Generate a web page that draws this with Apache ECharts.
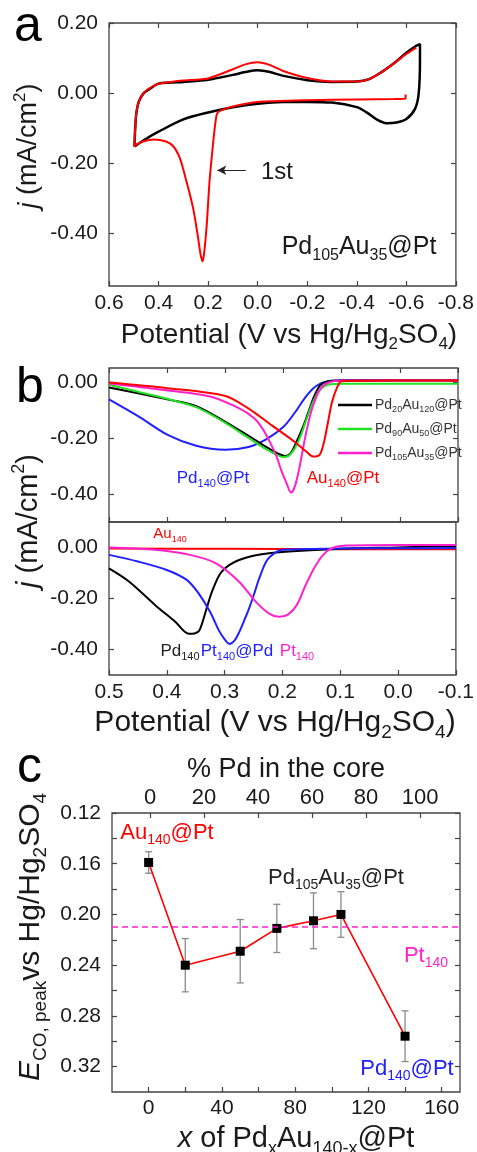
<!DOCTYPE html>
<html><head><meta charset="utf-8">
<script src="https://cdn.jsdelivr.net/npm/echarts@6/dist/echarts.min.js"></script>
<style>html,body{margin:0;padding:0;background:#fff}#c{width:477px;height:1152px}</style>
</head><body><div id="c"></div>
<script>
// ---------- Panel a: CV of Pd105Au35@Pt ----------
const cvBlackE = [0.497,0.495,0.49,0.48,0.46,0.44,0.4,0.35,0.3,0.2,0.1,0.05,0.0,-0.05,-0.1,-0.2,-0.3,-0.4,-0.45,-0.5,-0.55,-0.6,-0.64,-0.655,-0.655,-0.65,-0.635,-0.6,-0.56,-0.52,-0.48,-0.44,-0.4,-0.3,-0.2,-0.1,0.0,0.1,0.2,0.3,0.4,0.45,0.497];
const cvBlackJ = [-0.152,-0.11,-0.06,-0.025,0.0,0.01,0.027,0.03,0.032,0.038,0.052,0.06,0.065,0.06,0.05,0.037,0.032,0.033,0.04,0.06,0.085,0.115,0.135,0.14,0.1,0.0,-0.045,-0.074,-0.084,-0.086,-0.075,-0.055,-0.04,-0.027,-0.025,-0.025,-0.03,-0.04,-0.055,-0.075,-0.11,-0.13,-0.152];
const cvRedE = [-0.597,-0.597,-0.55,-0.4,-0.2,0.0,0.1,0.15,0.165,0.175,0.185,0.195,0.205,0.215,0.222,0.23,0.24,0.25,0.26,0.275,0.29,0.305,0.32,0.34,0.37,0.42,0.46,0.49,0.497,0.495,0.49,0.48,0.46,0.44,0.4,0.35,0.3,0.2,0.1,0.05,0.0,-0.05,-0.1,-0.2,-0.3,-0.4,-0.45,-0.5,-0.55,-0.6,-0.64];
const cvRedJ = [-0.004,-0.016,-0.017,-0.018,-0.02,-0.025,-0.038,-0.05,-0.06,-0.11,-0.18,-0.257,-0.37,-0.45,-0.48,-0.462,-0.415,-0.37,-0.33,-0.285,-0.245,-0.205,-0.175,-0.152,-0.138,-0.132,-0.137,-0.147,-0.152,-0.11,-0.06,-0.025,0.0,0.012,0.027,0.032,0.036,0.042,0.068,0.082,0.088,0.08,0.064,0.043,0.033,0.033,0.04,0.06,0.085,0.112,0.13];
const arrow1stE = [0.048, 0.163];
const arrow1stJ = -0.22;

// ---------- Panel b top: core@Pt particles ----------
const bNamesTop = ['Pd_{20}Au_{120}@Pt','Pd_{90}Au_{50}@Pt','Pd_{105}Au_{35}@Pt'];
const bPd140PtE = [0.5,0.45,0.4,0.35,0.3,0.26,0.23,0.2,0.18,0.165,0.15,0.135,0.12,0.1,0.0,-0.1];
const bPd140PtJ = [-0.062,-0.122,-0.188,-0.228,-0.242,-0.232,-0.205,-0.16,-0.108,-0.062,-0.025,-0.004,0.004,0.006,0.006,0.006];
const bPd20E = [0.5,0.45,0.4,0.35,0.3,0.26,0.23,0.21,0.198,0.188,0.178,0.166,0.156,0.147,0.137,0.125,0.1,0.0,-0.1];
const bPd20J = [-0.02,-0.04,-0.062,-0.086,-0.142,-0.192,-0.232,-0.255,-0.264,-0.255,-0.215,-0.158,-0.1,-0.05,-0.012,0.002,0.005,0.005,0.005];
const bPd90E = [0.5,0.45,0.4,0.35,0.3,0.26,0.23,0.21,0.2,0.19,0.18,0.17,0.16,0.15,0.14,0.13,0.12,0.1,0.0,-0.1];
const bPd90J = [-0.01,-0.035,-0.06,-0.09,-0.146,-0.2,-0.24,-0.262,-0.268,-0.262,-0.235,-0.19,-0.13,-0.075,-0.035,-0.016,-0.008,-0.006,-0.006,-0.006];
const bPd105E = [0.5,0.42,0.33,0.28,0.25,0.235,0.222,0.212,0.203,0.195,0.187,0.18,0.172,0.163,0.153,0.143,0.133,0.12,0.1,0.0,-0.1];
const bPd105J = [-0.005,-0.025,-0.05,-0.09,-0.13,-0.17,-0.22,-0.266,-0.32,-0.36,-0.395,-0.37,-0.3,-0.2,-0.11,-0.05,-0.015,0.0,0.005,0.005,0.005];
const bAu140PtE = [0.5,0.4,0.3,0.26,0.22,0.18,0.16,0.149,0.138,0.131,0.125,0.117,0.108,0.1,0.0,-0.1];
const bAu140PtJ = [-0.002,-0.022,-0.05,-0.095,-0.155,-0.215,-0.25,-0.266,-0.26,-0.22,-0.16,-0.075,-0.02,0.003,0.005,0.005];

// ---------- Panel b bottom: reference particles ----------
const bAu140E = [0.5,0.3,0.1,-0.1];
const bAu140J = [-0.004,-0.005,-0.007,-0.007];
const bPt140E = [0.5,0.42,0.36,0.315,0.275,0.246,0.223,0.206,0.19,0.175,0.16,0.145,0.13,0.115,0.09,0.0,-0.1];
const bPt140J = [0.0,-0.009,-0.029,-0.062,-0.134,-0.213,-0.259,-0.272,-0.262,-0.225,-0.148,-0.08,-0.03,-0.003,0.008,0.01,0.01];
const bPt140PdE = [0.5,0.45,0.4,0.365,0.345,0.325,0.31,0.3,0.292,0.283,0.275,0.265,0.258,0.248,0.24,0.225,0.2,0.1,0.0,-0.1];
const bPt140PdJ = [-0.029,-0.055,-0.088,-0.128,-0.18,-0.253,-0.325,-0.36,-0.378,-0.365,-0.333,-0.28,-0.241,-0.175,-0.12,-0.045,-0.009,-0.004,-0.003,-0.002];
const bPd140E = [0.5,0.465,0.42,0.385,0.362,0.352,0.343,0.333,0.322,0.305,0.275,0.22,0.1,0.0,-0.1];
const bPd140J = [-0.082,-0.134,-0.226,-0.292,-0.338,-0.337,-0.322,-0.253,-0.174,-0.095,-0.049,-0.022,-0.005,0.0,0.006];

// ---------- Panel c: CO peak potential vs composition ----------
const coreX = [0,20,50,70,90,105,140];
const coreEpeak = [0.159,0.240,0.229,0.211,0.205,0.200,0.296];
const coreErr = [0.0085,0.021,0.025,0.019,0.022,0.018,0.02];
const pt140Ref = 0.214;

// ---------- Tick values ----------
const aXTicks = [0.6,0.4,0.2,0.0,-0.2,-0.4,-0.6,-0.8];
const aYTicks = [0.2,0.0,-0.2,-0.4];
const bXTicks = [0.5,0.4,0.3,0.2,0.1,0.0,-0.1];
const bYTicks = [0.0,-0.2,-0.4];
const cXLabels = [0,40,80,120,160];
const cXTicks = [0,20,40,60,80,100,120,140,160];
const cTopTicks = [0,20,40,60,80,100];
const cYLabels = [0.12,0.16,0.20,0.24,0.28,0.32];
const cYTicks = [0.12,0.14,0.16,0.18,0.20,0.22,0.24,0.26,0.28,0.30,0.32];

// ================= rendering =================
const FF = "'Liberation Sans', Arial, Helvetica, sans-serif";
const RED='#ff0000', BLK='#000000', GRN='#22e022', MAG='#ff22cc', BLU='#2020ff', TXT='#1a1a1a', AX='#444';

function zip(a,b){ return a.map((v,i)=>[v,b[i]]); }
function mk(str){
  let out='', buf='', i=0;
  const flush=()=>{ if(buf){ out+='{n|'+buf+'}'; buf=''; } };
  while(i<str.length){
    const ch=str[i];
    if((ch==='_'||ch==='^') && str[i+1]==='{'){
      flush(); const j=str.indexOf('}',i);
      out+='{'+(ch==='_'?'s':'p')+'|'+str.slice(i+2,j)+'}'; i=j+1;
    } else if(ch==='$'){
      flush(); const j=str.indexOf('$',i+1);
      out+='{i|'+str.slice(i+1,j)+'}'; i=j+1;
    } else { buf+=ch; i++; }
  }
  flush(); return out;
}
function richSet(size,color,sub){
  const ss=Math.round(size*(sub||0.62));
  const lh=Math.round(size*1.3);
  return {
    n:{fontSize:size,fontFamily:FF,fill:color,color:color,lineHeight:lh},
    i:{fontSize:size,fontFamily:FF,fontStyle:'italic',fill:color,color:color,lineHeight:lh},
    s:{fontSize:ss,fontFamily:FF,fill:color,color:color,verticalAlign:'bottom'},
    p:{fontSize:ss,fontFamily:FF,fill:color,color:color,verticalAlign:'top'}
  };
}
function txt(text,x,y,size,color,extra){
  const e={type:'text',x:x,y:y,z:100,silent:true,
    style:{text:mk(text),align:'center',verticalAlign:'middle',fill:color,
      font:size+'px '+FF,rich:richSet(size,color)}};
  return Object.assign(e,extra||{});
}
function axis(dim,gridIndex,position,min,max,inverse,ticks,labels,fmt,margin,fs){
  return {type:'value',gridIndex,position,min,max,inverse,
    splitLine:{show:false},
    axisLine:{show:false,onZero:false},
    axisTick:{show:true,inside:true,length:5,customValues:ticks,lineStyle:{color:AX,width:1.2}},
    minorTick:{show:false},
    axisLabel:{show:!!labels,customValues:labels||ticks,formatter:fmt,margin:margin||8,
      fontSize:fs||21,fontFamily:FF,color:TXT}};
}
const f1=v=>Number(v).toFixed(1), f2=v=>Number(v).toFixed(2), f0=v=>String(Math.round(v));
const gridBase={show:true,borderColor:AX,borderWidth:1.3,backgroundColor:'transparent',containLabel:false};

const chart=echarts.init(document.getElementById('c'),null,{renderer:'canvas'});
const line=(name,x,y,xi,yi,color,w,extra)=>Object.assign({
  name,type:'line',xAxisIndex:xi,yAxisIndex:yi,data:zip(x,y),symbol:'none',smooth:0.3,
  lineStyle:{color,width:w},itemStyle:{color},silent:true,z:3},extra||{});

const option={
  animation:false,
  backgroundColor:'#ffffff',
  grid:[
    Object.assign({left:109,top:23,width:349,height:263},gridBase),
    Object.assign({left:109,top:368,width:349,height:154},gridBase),
    Object.assign({left:109,top:522,width:349,height:153},gridBase),
    Object.assign({left:112,top:813,width:348,height:279},gridBase)
  ],
  xAxis:[
    axis('x',0,'bottom',-0.8,0.6,true,aXTicks,aXTicks,f1,7),
    axis('x',0,'top',-0.8,0.6,true,aXTicks,null),
    axis('x',1,'bottom',-0.1,0.5,true,bXTicks,null),
    axis('x',1,'top',-0.1,0.5,true,bXTicks,null),
    axis('x',2,'bottom',-0.1,0.5,true,bXTicks,bXTicks,f1,7),
    axis('x',3,'bottom',-20,170,false,cXTicks,cXLabels,f0,6),
    axis('x',3,'top',-14.1,114.8,false,cTopTicks,cTopTicks,f0,4,22)
  ],
  yAxis:[
    axis('y',0,'left',-0.55,0.2,false,aYTicks,aYTicks,f2,11),
    axis('y',0,'right',-0.55,0.2,false,aYTicks,null),
    axis('y',1,'left',-0.5,0.05,false,bYTicks,bYTicks,f2,11),
    axis('y',1,'right',-0.5,0.05,false,bYTicks,null),
    axis('y',2,'left',-0.5,0.1,false,bYTicks,bYTicks,f2,11),
    axis('y',2,'right',-0.5,0.1,false,bYTicks,null),
    axis('y',3,'left',0.12,0.34,true,cYTicks,cYLabels,f2,11),
    axis('y',3,'right',0.12,0.34,true,cYTicks,null)
  ],
  legend:{
    data:bNamesTop,orient:'vertical',left:333,top:393,itemWidth:34,itemHeight:14,itemGap:8,
    selectedMode:false,icon:'path://M0,6 L34,6 L34,8.5 L0,8.5 Z',
    formatter:n=>mk(n),
    textStyle:{fontSize:14,color:'#333',fontFamily:FF,padding:[0,0,0,-2],rich:richSet(14,'#333',0.64)}
  },
  series:[
    line('cvBlack',cvBlackE,cvBlackJ,0,0,BLK,2.5),
    line('cvRed',cvRedE,cvRedJ,0,0,RED,2,{smooth:0.2,
      markLine:{silent:true,symbol:['none','arrow'],symbolSize:[7,9],
        lineStyle:{color:'#222',width:1,type:'solid'},label:{show:false},
        data:[[{coord:[arrow1stE[0],arrow1stJ]},{coord:[arrow1stE[1],arrow1stJ]}]]}}),
    line('Pd140@Pt',bPd140PtE,bPd140PtJ,2,2,BLU,2),
    line(bNamesTop[0],bPd20E,bPd20J,2,2,BLK,2),
    line(bNamesTop[1],bPd90E,bPd90J,2,2,GRN,2),
    line(bNamesTop[2],bPd105E,bPd105J,2,2,MAG,2),
    line('Au140@Pt',bAu140PtE,bAu140PtJ,2,2,RED,2),
    line('Au140',bAu140E,bAu140J,4,4,RED,2),
    line('Pd140',bPd140E,bPd140J,4,4,BLK,2),
    line('Pt140@Pd',bPt140PdE,bPt140PdJ,4,4,BLU,2),
    line('Pt140',bPt140E,bPt140J,4,4,MAG,2),
    {name:'err',type:'custom',xAxisIndex:5,yAxisIndex:6,silent:true,z:2,
      data:coreX.map((x,i)=>[x,coreEpeak[i],coreErr[i]]),
      encode:{x:0,y:1},
      renderItem:(params,api)=>{
        const x=api.value(0),y=api.value(1),e=api.value(2);
        const a=api.coord([x,y-e]), b=api.coord([x,y+e]); const w=3.5;
        const st={stroke:'#8a8a8a',lineWidth:1.3};
        return {type:'group',children:[
          {type:'line',shape:{x1:a[0],y1:a[1],x2:b[0],y2:b[1]},style:st},
          {type:'line',shape:{x1:a[0]-w,y1:a[1],x2:a[0]+w,y2:a[1]},style:st},
          {type:'line',shape:{x1:b[0]-w,y1:b[1],x2:b[0]+w,y2:b[1]},style:st}]};
      }},
    {name:'Epeak',type:'line',xAxisIndex:5,yAxisIndex:6,data:zip(coreX,coreEpeak),
      symbol:'rect',symbolSize:9,itemStyle:{color:'#000'},lineStyle:{color:RED,width:1.6},silent:true,z:4,
      markLine:{silent:true,symbol:'none',label:{show:false},
        lineStyle:{color:MAG,width:1.6,type:[6,4]},data:[{yAxis:pt140Ref}]}}
  ],
  graphic:[
    {type:'text',x:14,y:27,silent:true,style:{text:'a',font:'50px '+FF,fill:'#000',align:'left',verticalAlign:'middle'}},
    {type:'text',x:16,y:388,silent:true,style:{text:'b',font:'50px '+FF,fill:'#000',align:'left',verticalAlign:'middle'}},
    {type:'text',x:17,y:768,silent:true,style:{text:'c',font:'50px '+FF,fill:'#000',align:'left',verticalAlign:'middle'}},
    txt('$j$ (mA/cm^{2})',29,146,27,TXT,{rotation:Math.PI/2}),
    txt('Potential (V vs Hg/Hg_{2}SO_{4})',289,335,28,TXT),
    txt('$j$ (mA/cm^{2})',29,521,29,TXT,{rotation:Math.PI/2}),
    txt('Potential (V vs Hg/Hg_{2}SO_{4})',275,723,30,TXT),
    txt('% Pd in the core',286,770,27,TXT),
    txt('$E$_{CO, peak}vs Hg/Hg_{2}SO_{4}',31,937,30,TXT,{rotation:Math.PI/2}),
    txt('$x$ of Pd_{x}Au_{140-x}@Pt',296,1139,29,TXT),
    txt('Pd_{105}Au_{35}@Pt',359,247,25,TXT),
    txt('1st',277,172,24,TXT),
    txt('Pd_{140}@Pt',213,478,17,BLU),
    txt('Au_{140}@Pt',343,478,17,RED),
    txt('Au_{140}',170,534,15,RED),
    txt('Pd_{140}',180,651,17,'#222'),
    txt('Pt_{140}@Pd',237,651,17,BLU),
    txt('Pt_{140}',297,651,17,MAG),
    txt('Au_{140}@Pt',167,833,22,RED),
    txt('Pd_{105}Au_{35}@Pt',336,878,22,'#222'),
    txt('Pt_{140}',426,956,22,MAG),
    txt('Pd_{140}@Pt',407,1069,22,BLU)
  ]
};
chart.setOption(option);
</script></body></html>
